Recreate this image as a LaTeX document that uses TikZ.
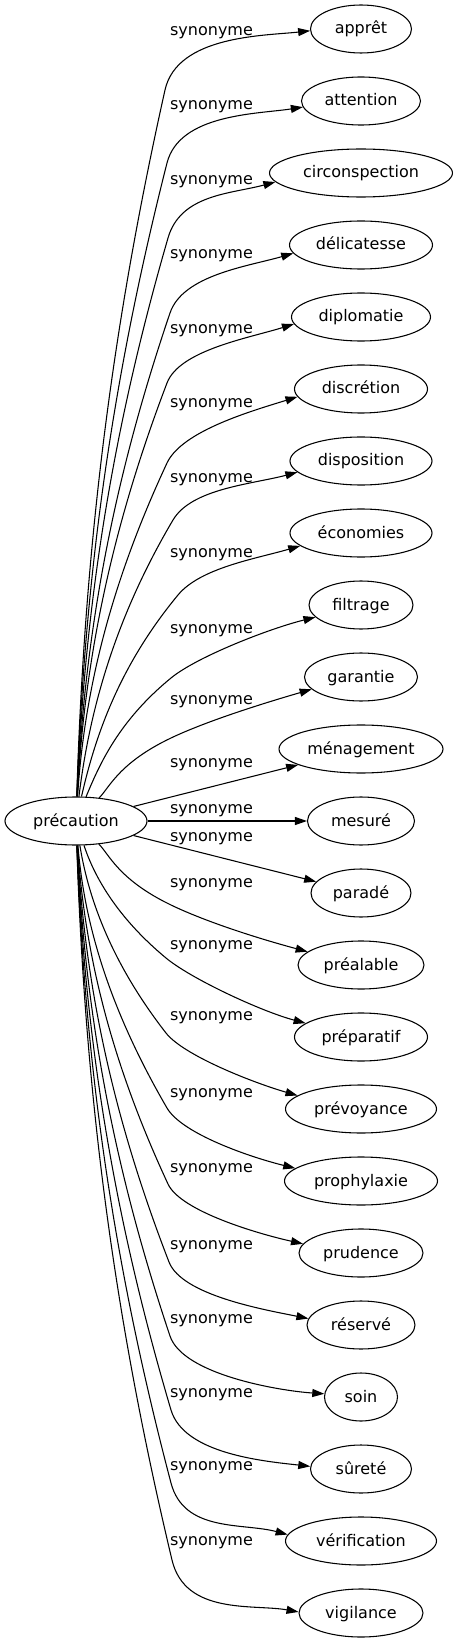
\documentclass[tikz,border=0pt]{standalone}
\usepackage{fontspec}
\setmainfont{DejaVu Sans}
\usetikzlibrary{arrows.meta, shapes.geometric}

\tikzset{
  word/.style={ellipse, draw, inner sep=0pt, minimum height=36pt, text height=8.5pt, text depth=1pt},
  syn/.style={-{Triangle[length=9pt,width=6pt]}},
}

\begin{document}
\begin{tikzpicture}[x=0.75pt, y=0.75pt, line width=0.8pt, every node/.style={font=\fontsize{12}{14}\selectfont}]
\useasboundingbox (-76,-822) rectangle (379,821);
\node[word, minimum width=106.5pt] (prec) at (0,0) {précaution};

% mots
\foreach \nm/\txt/\w [count=\k from 0] in {appret/apprêt/101, attention/attention/119,
  circonspection/circonspection/183, delicatesse/délicatesse/143, diplomatie/diplomatie/139,
  discretion/discrétion/133, disposition/disposition/142, economies/économies/142,
  filtrage/filtrage/104, garantie/garantie/113, menagement/ménagement/164, mesure/mesuré/107,
  parade/paradé/100, prealable/préalable/126, preparatif/préparatif/133,
  prevoyance/prévoyance/151, prophylaxie/prophylaxie/153, prudence/prudence/124,
  reserve/réservé/108, soin/soin/73, surete/sûreté/101, verification/vérification/151,
  vigilance/vigilance/124}
  \node[word, minimum width={\w*0.75pt}] (\nm) at (285, 792-72*\k) {\txt};

% etiquettes
\foreach \ly [count=\k from 0] in {788,714,639,565,490,416,341,266,190,119,56,10,
  -18,-64,-126,-197,-274,-349,-426,-500,-574,-647,-722}
  \node (syn\k) at (135.5,\ly) {synonyme};

% aretes courbes
\foreach \nm/\bx/\by/\a/\f/\th/\dy in {appret/89/731/0.1/0.25/182/-5, attention/91/658/0.1/0.25/186/-7,
  circonspection/92/583/0.1/0.25/186/-12, delicatesse/94/508/0.1/0.25/187/-13,
  diplomatie/91/438/0.1/0.25/186/-14, discretion/91/358/0.1/0.3/187/-14,
  disposition/97/301/0.15/0.35/190/-12, economies/102/226/0.2/0.4/192/-13,
  filtrage/95/143/0.25/0.5/195/-11, garantie/95/83/0.35/0.7/194/-13,
  prealable/95/-84/0.35/0.7/166/12, preparatif/90/-137/0.2/0.5/166/12,
  prevoyance/90/-212/0.15/0.35/168/13, prophylaxie/91/-287/0.1/0.3/169/11,
  prudence/92/-363/0.1/0.25/171/10, reserve/93/-441/0.1/0.25/173/9, soin/94/-515/0.1/0.25/175/3,
  surete/95/-589/0.1/0.25/177/5, verification/95/-662/0.1/0.25/175/12, vigilance/96/-739/0.1/0.25/179/8}
  \draw[syn] (prec) .. controls (\a*\bx, 0.4*\by) and (0.45*\bx, 0.7*\by) .. (\bx,\by)
    .. controls ({(1+0.55*\f)*\bx}, {(1+0.3*\f)*\by}) and +(-45,\dy) .. (\nm.\th);

% aretes droites
\foreach \nm in {menagement, mesure, parade}
  \draw[syn] (prec) -- (\nm);
\end{tikzpicture}
\end{document}
